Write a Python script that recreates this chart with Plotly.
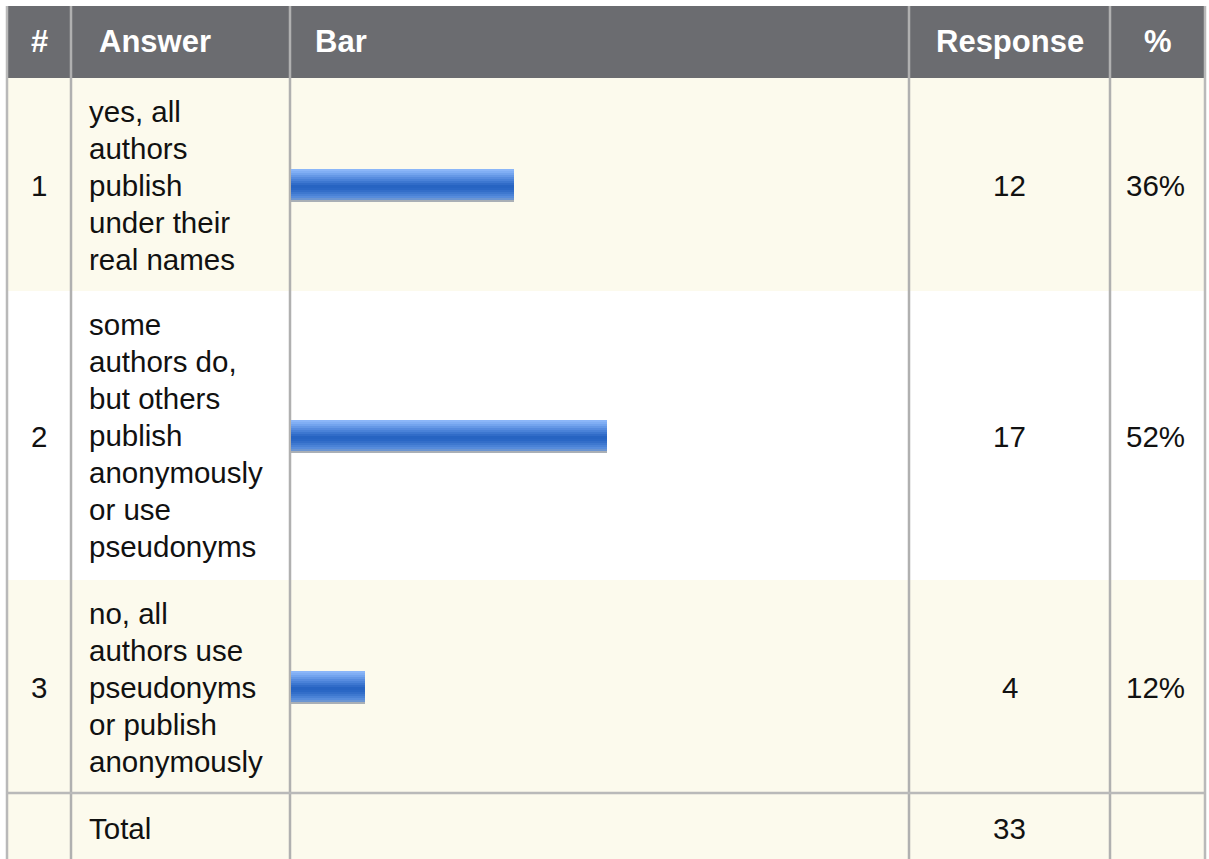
import plotly.graph_objects as go

# ---- data ----
headers = ["#", "Answer", "Bar", "Response", "%"]
row_numbers = ["1", "2", "3"]
answers = [
    "yes, all<br>authors<br>publish<br>under their<br>real names",
    "some<br>authors do,<br>but others<br>publish<br>anonymously<br>or use<br>pseudonyms",
    "no, all<br>authors use<br>pseudonyms<br>or publish<br>anonymously",
]
responses = [12, 17, 4]
percents = ["36%", "52%", "12%"]
total_label = "Total"
total_value = 33

# ---- layout geometry (pixels) ----
W, H = 1209, 859
col_x = [7, 71, 290, 909, 1110, 1205]
header_top, header_bot = 6, 78
row_bounds = [78, 291, 580, 793]
total_bot = 859
cream = "#fcfaed"
grid = "#b9b9b9"
header_bg = "#6b6c70"
body_font = dict(family="Liberation Sans, Arial, sans-serif", size=29.5, color="#111111")
head_font = dict(family="Liberation Sans, Arial, sans-serif", size=31, color="#ffffff", weight="bold")


def px(x):
    return x / W


def py(y):
    return 1 - y / H


shapes = []


def rect(x0, y0, x1, y1, color):
    shapes.append(dict(type="rect", xref="paper", yref="paper", x0=px(x0), x1=px(x1),
                       y0=py(y1), y1=py(y0), fillcolor=color, line=dict(width=0), layer="below"))


def line(x0, y0, x1, y1, color=grid, w=2.5):
    shapes.append(dict(type="line", xref="paper", yref="paper", x0=px(x0), x1=px(x1),
                       y0=py(y0), y1=py(y1), line=dict(color=color, width=w), layer="below"))


# backgrounds
rect(col_x[0], header_top, col_x[-1], header_bot, header_bg)
row_colors = [cream, "#ffffff", cream]
for i, c in enumerate(row_colors):
    rect(col_x[0], row_bounds[i], col_x[-1], row_bounds[i + 1], c)
rect(col_x[0], row_bounds[-1], col_x[-1], total_bot, cream)

# grid lines
for i, x in enumerate(col_x):
    line(x, header_top, x, total_bot, color=grid if i in (0, len(col_x) - 1) else "#b0b0b0")
line(col_x[0], row_bounds[-1], col_x[-1], row_bounds[-1])

annotations = []


def text(x, y, s, font, xanchor="center"):
    annotations.append(dict(xref="paper", yref="paper", x=px(x), y=py(y), text=s,
                            showarrow=False, font=font, xanchor=xanchor, yanchor="middle"))


# header texts
hy = 41
text((col_x[0] + col_x[1]) / 2, hy, headers[0], head_font)
text(97, hy, headers[1], head_font, "left")
text(313, hy, headers[2], head_font, "left")
text((col_x[3] + col_x[4]) / 2, hy, headers[3], head_font)
text((col_x[4] + col_x[5]) / 2, hy, headers[4], head_font)

# body
line_gap = 37
shift = 0.35 * body_font["size"]
for i in range(len(answers)):
    top, bot = row_bounds[i], row_bounds[i + 1]
    cy = (top + bot) / 2 + 1
    text((col_x[0] + col_x[1]) / 2, cy, row_numbers[i], body_font)
    for k, ln in enumerate(answers[i].split("<br>")):
        base = top + 43.5 + k * line_gap
        text(87, base - shift, ln, body_font, "left")
    text((col_x[3] + col_x[4]) / 2, cy, str(responses[i]), body_font)
    text((col_x[4] + col_x[5]) / 2 - 2, cy, percents[i], body_font)

text(87, 839 - shift, total_label, body_font, "left")
text((col_x[3] + col_x[4]) / 2, 839 - shift, str(total_value), body_font)

# ---- bars (gradient built from horizontal strips) ----
row_centers = [(row_bounds[i] + row_bounds[i + 1]) / 2 + 0.5 for i in range(len(responses))]
strips = [  # (top offset, bottom offset, color) relative to bar top, bar height 33
    (0, 2, "#8bb6f8"), (2, 4, "#80aef4"), (4, 6, "#73a4ee"), (6, 8, "#6598e6"),
    (8, 10, "#578cdf"), (10, 12, "#4a82d8"), (12, 14, "#3d77d0"), (14, 16, "#316cc8"),
    (16, 19, "#2764c2"), (19, 21, "#2a67c5"), (21, 23, "#336ec9"), (23, 25, "#3e78cf"),
    (25, 27, "#4a82d6"), (27, 29, "#578cdb"), (29, 31, "#6b95d2"), (31, 33, "#a9afb6"),
]
fig = go.Figure()
for t0, t1, c in strips:
    fig.add_trace(go.Bar(
        x=responses, y=row_centers, orientation="h", base=0,
        offset=t0 - 16.5, width=t1 - t0,
        marker=dict(color=c, line=dict(width=0)),
        hoverinfo="skip", showlegend=False,
    ))

bar_px_per_unit = 18.6
bar_left = 291
bar_right = col_x[3] - 1
fig.update_layout(
    width=W, height=H, autosize=False,
    margin=dict(l=0, r=0, t=0, b=0),
    paper_bgcolor="#ffffff", plot_bgcolor="rgba(0,0,0,0)",
    barmode="overlay", bargap=0,
    xaxis=dict(domain=[px(bar_left), px(bar_right)],
               range=[0, (bar_right - bar_left) / bar_px_per_unit],
               visible=False, fixedrange=True),
    yaxis=dict(domain=[0, 1], range=[H, 0], visible=False, fixedrange=True),
    shapes=shapes, annotations=annotations,
    hovermode=False,
)

fig.write_html(
    "out.html",
    config={"displayModeBar": False},
    post_script="document.body.style.margin='0';document.body.style.overflow='hidden';",
)
